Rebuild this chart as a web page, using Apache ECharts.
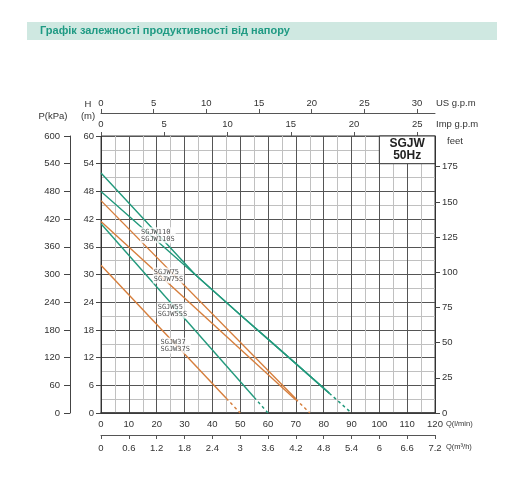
<!DOCTYPE html>
<html>
<head>
<meta charset="utf-8">
<script src="https://cdn.jsdelivr.net/npm/echarts@6/dist/echarts.min.js"></script>
<style>
  html, body { margin: 0; padding: 0; background: #fff; }
  #chart { width: 512px; height: 493px; }
</style>
</head>
<body>
<div id="chart"></div>
<script>
// pump curves, [Q l/min, H m]; solid part then dashed tail
const sgjw110 = [[0, 52], [34, 29.9], [50, 21.3], [60, 16], [70, 10.7], [82, 4.3]];
const sgjw110s = [[0, 48], [34, 29.9], [50, 21.3], [60, 16], [70, 10.7], [82, 4.3]];
const sgjw110Tail = [[82, 4.3], [90, 0]];
const sgjw75 = [[0, 46], [70, 3.1]];
const sgjw75s = [[0, 41.5], [70, 2.8]];
const sgjw75Tail = [[70, 3.0], [75, 0]];
const sgjw55 = [[0, 41], [55, 3.4]];
const sgjw55Tail = [[55, 3.4], [60, 0]];
const sgjw37 = [[0, 32], [45, 3.2]];
const sgjw37Tail = [[45, 3.2], [50, 0]];

const labelTexts = ['SGJW110\nSGJW110S', 'SGJW75\nSGJW75S', 'SGJW55\nSGJW55S', 'SGJW37\nSGJW37S'];
const labelAnchors = [[14.0, 38.5], [18.6, 29.8], [20.0, 22.2], [21.0, 14.6]];

// unit conversions for the extra axes
const qMax = 120, hMax = 60;
const LPM_TO_M3H = 0.06;
const LPM_TO_USGPM = 0.264172;
const LPM_TO_IMPGPM = 0.219969;
const M_TO_KPA = 10;
const M_TO_FT = 3.28084;

const GREEN = '#22997c';
const ORANGE = '#d67e3c';
const TXT = '#333';
const FONT = 'Liberation Sans, Arial, sans-serif';

function curve(data, color, dashed) {
  return {
    type: 'line',
    data: data,
    symbol: 'none',
    silent: true,
    z: 3,
    lineStyle: { color: color, width: 1.4, type: dashed ? [3, 3] : 'solid' },
  };
}

let chartDom = document.getElementById('chart');
let myChart = echarts.init(chartDom, null, { renderer: 'canvas' });

let smallLabel = { color: TXT, fontSize: 9.5, fontFamily: FONT };

let option = {
  animation: false,
  backgroundColor: '#fff',
  grid: {
    left: 101, top: 136, width: 334, height: 277,
    show: true, borderColor: '#444', borderWidth: 1,
    containLabel: false, outerBoundsMode: 'none',
  },
  xAxis: [
    {
      type: 'value', min: 0, max: qMax, interval: 10, position: 'bottom',
      axisLine: { show: true, onZero: false, lineStyle: { color: '#333', width: 1.5 } },
      axisTick: { show: false },
      axisLabel: Object.assign({ margin: 6 }, smallLabel),
      splitLine: { show: true, lineStyle: { color: '#555', width: 1 } },
      minorTick: { show: false, splitNumber: 2 },
      minorSplitLine: { show: true, lineStyle: { color: '#c0c0c0', width: 1 } },
    },
    {
      type: 'value', min: 0, max: +(qMax * LPM_TO_M3H).toFixed(2), interval: 0.6, position: 'bottom', offset: 22,
      axisLine: { show: true, onZero: false, lineStyle: { color: '#555' } },
      axisTick: { show: true, length: 4, lineStyle: { color: '#555' } },
      axisLabel: Object.assign({ margin: 8 }, smallLabel),
      splitLine: { show: false },
    },
    {
      type: 'value', min: 0, max: qMax * LPM_TO_IMPGPM, interval: 5, position: 'top', offset: 0,
      axisLine: { show: false, onZero: false },
      axisTick: { show: true, length: 4, lineStyle: { color: '#555' } },
      axisLabel: Object.assign({ margin: 7, showMaxLabel: false }, smallLabel),
      splitLine: { show: false },
    },
    {
      type: 'value', min: 0, max: qMax * LPM_TO_USGPM, interval: 5, position: 'top', offset: 23,
      axisLine: { show: true, onZero: false, lineStyle: { color: '#555' } },
      axisTick: { show: true, length: 4, lineStyle: { color: '#555' } },
      axisLabel: Object.assign({ margin: 5, showMaxLabel: false }, smallLabel),
      splitLine: { show: false },
    },
  ],
  yAxis: [
    {
      type: 'value', min: 0, max: hMax, interval: 6, position: 'left',
      axisLine: { show: true, onZero: false, lineStyle: { color: '#333' } },
      axisTick: { show: true, length: 5, lineStyle: { color: '#444' } },
      axisLabel: Object.assign({ margin: 7 }, smallLabel),
      splitLine: { show: true, lineStyle: { color: '#555', width: 1 } },
      minorTick: { show: false, splitNumber: 2 },
      minorSplitLine: { show: true, lineStyle: { color: '#c0c0c0', width: 1 } },
    },
    {
      type: 'value', min: 0, max: hMax * M_TO_KPA, interval: 60, position: 'left', offset: 31,
      axisLine: { show: true, onZero: false, lineStyle: { color: '#444' } },
      axisTick: { show: true, length: 6, lineStyle: { color: '#444' } },
      axisLabel: Object.assign({ margin: 10 }, smallLabel),
      splitLine: { show: false },
    },
    {
      type: 'value', min: 0, max: hMax * M_TO_FT, interval: 25, position: 'right',
      axisLine: { show: true, onZero: false, lineStyle: { color: '#333' } },
      axisTick: { show: true, length: 5, lineStyle: { color: '#444' } },
      axisLabel: Object.assign({ margin: 7, showMaxLabel: false }, smallLabel),
      splitLine: { show: false },
    },
  ],
  graphic: [
    { type: 'rect', left: 27, top: 22, shape: { width: 470, height: 18 }, style: { fill: '#cfe8e1' }, silent: true },
    { type: 'text', left: 40, top: 25, style: { text: 'Графік залежності продуктивності від напору', fill: '#1f9a83', font: 'bold 11px Liberation Sans, Arial, sans-serif' } },
    { type: 'text', x: 88, y: 104, style: { text: 'H', fill: TXT, font: '9.5px Liberation Sans, Arial', textAlign: 'center', textVerticalAlign: 'middle' } },
    { type: 'text', x: 88, y: 116, style: { text: '(m)', fill: TXT, font: '9.5px Liberation Sans, Arial', textAlign: 'center', textVerticalAlign: 'middle' } },
    { type: 'text', x: 53, y: 116, style: { text: 'P(kPa)', fill: TXT, font: '9.5px Liberation Sans, Arial', textAlign: 'center', textVerticalAlign: 'middle' } },
    { type: 'text', x: 436, y: 103, style: { text: 'US g.p.m', fill: TXT, font: '9.5px Liberation Sans, Arial', textVerticalAlign: 'middle' } },
    { type: 'text', x: 436, y: 124, style: { text: 'Imp g.p.m', fill: TXT, font: '9.5px Liberation Sans, Arial', textVerticalAlign: 'middle' } },
    { type: 'text', x: 447, y: 141, style: { text: 'feet', fill: TXT, font: '9.5px Liberation Sans, Arial', textVerticalAlign: 'middle' } },
    { type: 'text', x: 446, y: 424, style: { text: 'Q(l/min)', fill: TXT, font: '7.5px Liberation Sans, Arial', textVerticalAlign: 'middle' } },
    { type: 'text', x: 446, y: 447, style: { text: 'Q(m³/h)', fill: TXT, font: '7.5px Liberation Sans, Arial', textVerticalAlign: 'middle' } },
  ],
  series: [
    curve(sgjw110, GREEN, false),
    curve(sgjw110s, GREEN, false),
    curve(sgjw110Tail, GREEN, true),
    curve(sgjw75, ORANGE, false),
    curve(sgjw75s, ORANGE, false),
    curve(sgjw75Tail, ORANGE, true),
    curve(sgjw55, GREEN, false),
    curve(sgjw55Tail, GREEN, true),
    curve(sgjw37, ORANGE, false),
    curve(sgjw37Tail, ORANGE, true),
    {
      type: 'scatter',
      silent: true,
      z: 10,
      symbolSize: 0,
      data: labelAnchors.map((p, i) => ({ value: p, name: labelTexts[i] })),
      label: {
        show: true,
        position: 'right',
        distance: 0,
        formatter: p => p.name,
        backgroundColor: '#fff',
        padding: [1, 1, 1, 1],
        color: '#222',
        fontSize: 7,
        lineHeight: 7,
        fontFamily: 'DejaVu Sans Mono, monospace',
      },
      markArea: {
        silent: true,
        itemStyle: { color: '#fff', borderColor: '#333', borderWidth: 1 },
        label: {
          show: true,
          position: 'inside',
          formatter: 'SGJW\n50Hz',
          fontWeight: 'bold',
          fontSize: 12,
          lineHeight: 12,
          color: '#222',
          fontFamily: FONT,
        },
        data: [[{ coord: [100, 60] }, { coord: [120, 54] }]],
      },
    },
  ],
};
myChart.setOption(option);
</script>
</body>
</html>
